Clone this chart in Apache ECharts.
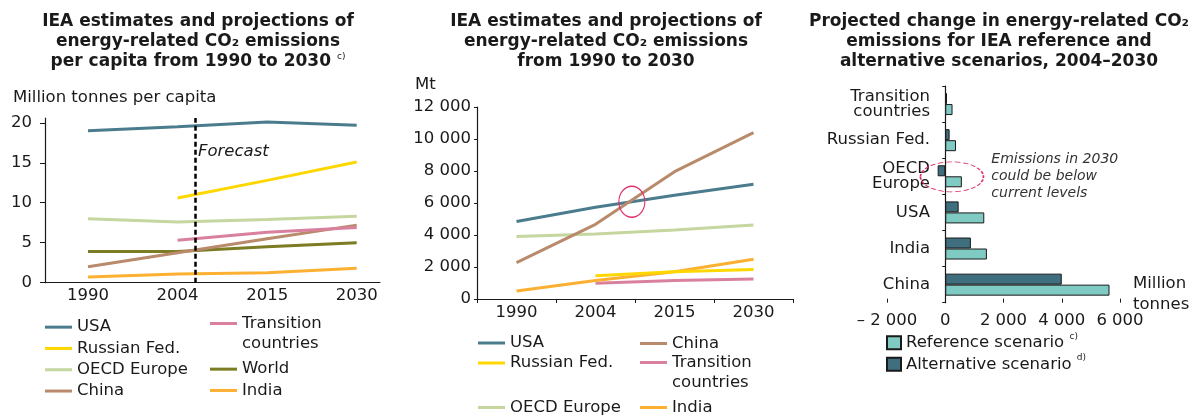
<!DOCTYPE html>
<html>
<head>
<meta charset="utf-8">
<script src="https://cdn.jsdelivr.net/npm/echarts@6/dist/echarts.min.js"></script>
<style>
html,body{margin:0;padding:0;background:#fff;}
#c{width:1192px;height:415px;}
</style>
</head>
<body>
<div id="c"></div>
<script>
// ---------- data ----------
const periods = ['1990', '2004', '2015', '2030'];

// Panel 1: tonnes CO2 per capita
const perCapitaUSA        = [19.0, 19.5, 20.1, 19.7];
const perCapitaRussia     = [null, 10.6, 12.8, 15.1];
const perCapitaOECDEurope = [8.0, 7.6, 7.9, 8.3];
const perCapitaChina      = [2.0, 3.75, 5.5, 7.2];
const perCapitaTransition = [null, 5.3, 6.3, 6.9];
const perCapitaWorld      = [3.9, 3.9, 4.5, 5.0];
const perCapitaIndia      = [0.7, 1.1, 1.25, 1.8];
const perCapitaTicks      = [0, 5, 10, 15, 20];

// Panel 2: Mt CO2
const totalUSA        = [4850, 5730, 6480, 7170];
const totalChina      = [2270, 4670, 7960, 10400];
const totalRussia     = [null, 1460, 1710, 1850];
const totalOECDEurope = [3900, 4060, 4310, 4620];
const totalTransition = [null, 980, 1150, 1250];
const totalIndia      = [500, 1150, 1700, 2480];

// Panel 3: change 2004-2030, Mt
const changeRegions     = ['China', 'India', 'USA', 'OECD\nEurope', 'Russian Fed.', 'Transition\ncountries'];
const changeReference   = [5640, 1430, 1340, 570, 370, 250];
const changeAlternative = [4000, 880, 460, -260, 150, 60];

// annotations (in data units)
const forecastStart = 1.2;          // period index (~2006)
const forecastLabelAt = 16.4;
const crossover = [1.46, 6080];     // USA / China crossing
const oecdNote = [230, 3];          // OECD Europe row

// ---------- style ----------
const FONT = 'DejaVu Sans';
const FS = 16.5;
const TXT = '#1a1a1a';
const AX = '#1a1a1a';
const seriesColors = {
  'USA': '#4b7c8d',
  'Russian Fed.': '#ffd700',
  'OECD Europe': '#c5d69f',
  'China': '#b98a6c',
  'Transition countries': '#d9809f',
  'World': '#7b7c23',
  'India': '#fbb031'
};
const refColor = '#7fcac2';
const altColor = '#3f6e7e';
const noteColor = '#e0306a';

const pts = arr => arr.map((v, i) => [i, v]);
const thousands = v => {
  const s = String(Math.abs(v)).replace(/\B(?=(\d{3})+(?!\d))/g, ' ');
  return v < 0 ? '\u2013 ' + s : s;
};
const ellipse = 'path://M0,50 A50,50 0 1,1 100,50 A50,50 0 1,1 0,50 Z';

function lineSeries(name, values, xi, yi, extra) {
  return Object.assign({
    name, type: 'line', xAxisIndex: xi, yAxisIndex: yi,
    data: pts(values), symbol: 'none', connectNulls: false,
    lineStyle: { width: 3, color: seriesColors[name] },
    itemStyle: { color: seriesColors[name] },
    emphasis: { disabled: true }
  }, extra || {});
}

const labelStyle = { fontFamily: FONT, fontSize: FS, color: TXT };

function legend(names, left, top, extra) {
  return Object.assign({
    data: names, left, top, orient: 'vertical', padding: 0, itemGap: 0,
    icon: 'rect', itemWidth: 27, itemHeight: 3, selectedMode: false,
    textStyle: { fontFamily: FONT, fontSize: FS, color: TXT, lineHeight: 21 }
  }, extra || {});
}
// multi-line legend entry whose icon sits on the first line
function legendWrapped(name, left, firstLineCenter) {
  return legend([name], left, firstLineCenter - 30, {
    formatter: n => '{e| }\n{t|' + n.replace(' ', '}\n{t|') + '}',
    textStyle: { fontFamily: FONT, fontSize: FS, color: TXT,
      rich: { e: { lineHeight: 20, fontSize: FS }, t: { lineHeight: 20, fontSize: FS, fontFamily: FONT, color: TXT } } }
  });
}

const titleStyle = {
  fontFamily: FONT, fontSize: 17, fontWeight: 'bold', lineHeight: 20, color: TXT,
  rich: { sup: { fontSize: 9, fontWeight: 'normal', verticalAlign: 'top', lineHeight: 10, fontFamily: FONT, color: TXT } }
};

const option = {
  animation: false,
  textStyle: { fontFamily: FONT },
  title: [
    { text: 'IEA estimates and projections of\nenergy-related CO\u2082 emissions\nper capita from 1990 to 2030 {sup|c)}',
      left: 198, top: 12, textAlign: 'center', padding: 0, textStyle: titleStyle },
    { text: 'IEA estimates and projections of\nenergy-related CO\u2082 emissions\nfrom 1990 to 2030',
      left: 606, top: 12, textAlign: 'center', padding: 0, textStyle: titleStyle },
    { text: 'Projected change in energy-related CO\u2082\nemissions for IEA reference and\nalternative scenarios, 2004\u20132030',
      left: 999, top: 12, textAlign: 'center', padding: 0, textStyle: titleStyle }
  ],
  // unit label of the bar panel's value axis
  graphic: [
    { type: 'text', left: 1133, top: 273.5, silent: true,
      style: { text: 'Million\ntonnes', fontFamily: FONT, fontSize: FS, lineHeight: 21, fill: TXT } }
  ],
  grid: [
    { left: 45, top: 118, width: 335, height: 164.7 },
    { left: 477, top: 107, width: 316, height: 192 },
    { left: 887, top: 86, width: 233, height: 216.7 }
  ],
  xAxis: [
    { gridIndex: 0, type: 'value', min: -0.48, max: 3.26,
      axisLine: { onZero: false, lineStyle: { color: AX, width: 1.2 } },
      axisTick: { show: false },
      splitLine: { show: false },
      axisLabel: Object.assign({ margin: 5, customValues: [0, 1, 2, 3], formatter: v => periods[Math.round(v)] }, labelStyle) },
    { gridIndex: 1, type: 'value', min: -0.5, max: 3.5,
      axisLine: { onZero: false, lineStyle: { color: AX, width: 1.2 } },
      axisTick: { show: true, length: 4, customValues: [-0.5, 0.5, 1.5, 2.5, 3.5], lineStyle: { color: AX } },
      splitLine: { show: false },
      axisLabel: Object.assign({ margin: 5, customValues: [0, 1, 2, 3], formatter: v => periods[Math.round(v)] }, labelStyle) },
    { gridIndex: 2, type: 'value', min: -2000, max: 6000, interval: 2000,
      axisLine: { onZero: false, lineStyle: { color: AX, width: 1.2 } },
      axisTick: { show: true, inside: true, length: 4, lineStyle: { color: AX } },
      splitLine: { show: false },
      axisLabel: Object.assign({ margin: 10, formatter: thousands }, labelStyle) }
  ],
  yAxis: [
    { gridIndex: 0, type: 'value', min: 0, max: 20.6,
      name: 'Million tonnes per capita', nameLocation: 'end', nameGap: 12,
      nameTextStyle: { fontFamily: FONT, fontSize: FS, color: TXT, align: 'left', verticalAlign: 'bottom', padding: [0, 0, 0, -32] },
      axisLine: { show: true, onZero: false, lineStyle: { color: AX, width: 1.2 } },
      axisTick: { show: true, length: 5, customValues: perCapitaTicks, lineStyle: { color: AX } },
      splitLine: { show: false },
      axisLabel: Object.assign({ margin: 13, customValues: perCapitaTicks }, labelStyle) },
    { gridIndex: 1, type: 'value', min: 0, max: 12000, interval: 2000,
      name: 'Mt', nameLocation: 'end', nameGap: 14,
      nameTextStyle: { fontFamily: FONT, fontSize: FS, color: TXT, align: 'left', verticalAlign: 'bottom', padding: [0, 0, 0, -62] },
      axisLine: { show: true, onZero: false, lineStyle: { color: AX, width: 1.2 } },
      axisTick: { show: true, length: 3, lineStyle: { color: AX } },
      splitLine: { show: false },
      axisLabel: Object.assign({ margin: 6, formatter: thousands }, labelStyle) },
    { gridIndex: 2, type: 'category', data: changeRegions,
      axisLine: { show: true, onZero: true, lineStyle: { color: AX, width: 1.2 } },
      axisTick: { show: true, length: 3, lineStyle: { color: AX } },
      axisLabel: Object.assign({ margin: -43, lineHeight: 15 }, labelStyle) }
  ],
  legend: [
    legend(['USA', 'Russian Fed.', 'OECD Europe', 'China'], 45, 316.5, { textStyle: { fontFamily: FONT, fontSize: FS, color: TXT, lineHeight: 21.3 } }),
    legendWrapped('Transition countries', 210, 325),
    legend(['World', 'India'], 210, 358.5, { textStyle: { fontFamily: FONT, fontSize: FS, color: TXT, lineHeight: 21.3 } }),

    legend(['USA', 'Russian Fed.'], 478, 333, { textStyle: { fontFamily: FONT, fontSize: FS, color: TXT, lineHeight: 20 } }),
    legend(['OECD Europe'], 478, 397),
    legend(['China'], 640, 333),
    legendWrapped('Transition countries', 640, 364),
    legend(['India'], 640, 397),

    legend(['Reference scenario', 'Alternative scenario'], 886, 332, {
      itemWidth: 14, itemHeight: 13,
      formatter: n => n === 'Reference scenario' ? n + ' {sup|c)}' : n + ' {sup|d)}',
      textStyle: { fontFamily: FONT, fontSize: FS, color: TXT, lineHeight: 21.5,
        rich: { sup: { fontSize: 9, verticalAlign: 'top', lineHeight: 14, fontFamily: FONT, color: TXT } } }
    })
  ],
  series: [
    // Panel 1
    lineSeries('OECD Europe', perCapitaOECDEurope, 0, 0),
    lineSeries('World', perCapitaWorld, 0, 0),
    lineSeries('India', perCapitaIndia, 0, 0),
    lineSeries('China', perCapitaChina, 0, 0),
    lineSeries('Transition countries', perCapitaTransition, 0, 0),
    lineSeries('Russian Fed.', perCapitaRussia, 0, 0),
    lineSeries('USA', perCapitaUSA, 0, 0, {
      markLine: {
        silent: true, symbol: 'none', label: { show: false },
        lineStyle: { color: '#000', type: [5, 3], width: 2.5 },
        data: [{ xAxis: forecastStart }]
      },
      markPoint: {
        silent: true, symbol: 'circle', symbolSize: 1, itemStyle: { color: 'transparent' },
        label: { show: true, position: 'right', distance: 2, formatter: 'Forecast',
          fontFamily: FONT, fontSize: FS, fontStyle: 'italic', color: TXT },
        data: [{ coord: [forecastStart, forecastLabelAt] }]
      }
    }),
    // Panel 2
    lineSeries('OECD Europe', totalOECDEurope, 1, 1),
    lineSeries('Transition countries', totalTransition, 1, 1),
    lineSeries('India', totalIndia, 1, 1),
    lineSeries('Russian Fed.', totalRussia, 1, 1),
    lineSeries('USA', totalUSA, 1, 1),
    lineSeries('China', totalChina, 1, 1, {
      markPoint: {
        silent: true, symbol: ellipse, symbolSize: [26, 31],
        itemStyle: { color: 'transparent', borderColor: noteColor, borderWidth: 1.2 },
        label: { show: false },
        data: [{ coord: crossover }]
      }
    }),
    // Panel 3
    { name: 'Alternative scenario', type: 'bar', xAxisIndex: 2, yAxisIndex: 2,
      data: changeAlternative, barWidth: 11, barGap: '0%',
      itemStyle: { color: altColor, borderColor: '#1a1a1a', borderWidth: 1 },
      emphasis: { disabled: true },
      markPoint: {
        silent: true, symbol: ellipse, symbolSize: [63, 30], symbolOffset: [0, 6],
        itemStyle: { color: 'transparent', borderColor: noteColor, borderWidth: 1.2, borderType: [4, 2] },
        label: { show: true, position: 'right', distance: 7, align: 'left',
          formatter: 'Emissions in 2030\ncould be below\ncurrent levels',
          fontFamily: FONT, fontSize: 14, fontStyle: 'italic', lineHeight: 17, color: '#333' },
        data: [{ coord: oecdNote }]
      }
    },
    { name: 'Reference scenario', type: 'bar', xAxisIndex: 2, yAxisIndex: 2,
      data: changeReference, barWidth: 11, barGap: '0%',
      itemStyle: { color: refColor, borderColor: '#1a1a1a', borderWidth: 1 },
      emphasis: { disabled: true } }
  ]
};

const chart = echarts.init(document.getElementById('c'));
chart.setOption(option);
</script>
</body>
</html>
